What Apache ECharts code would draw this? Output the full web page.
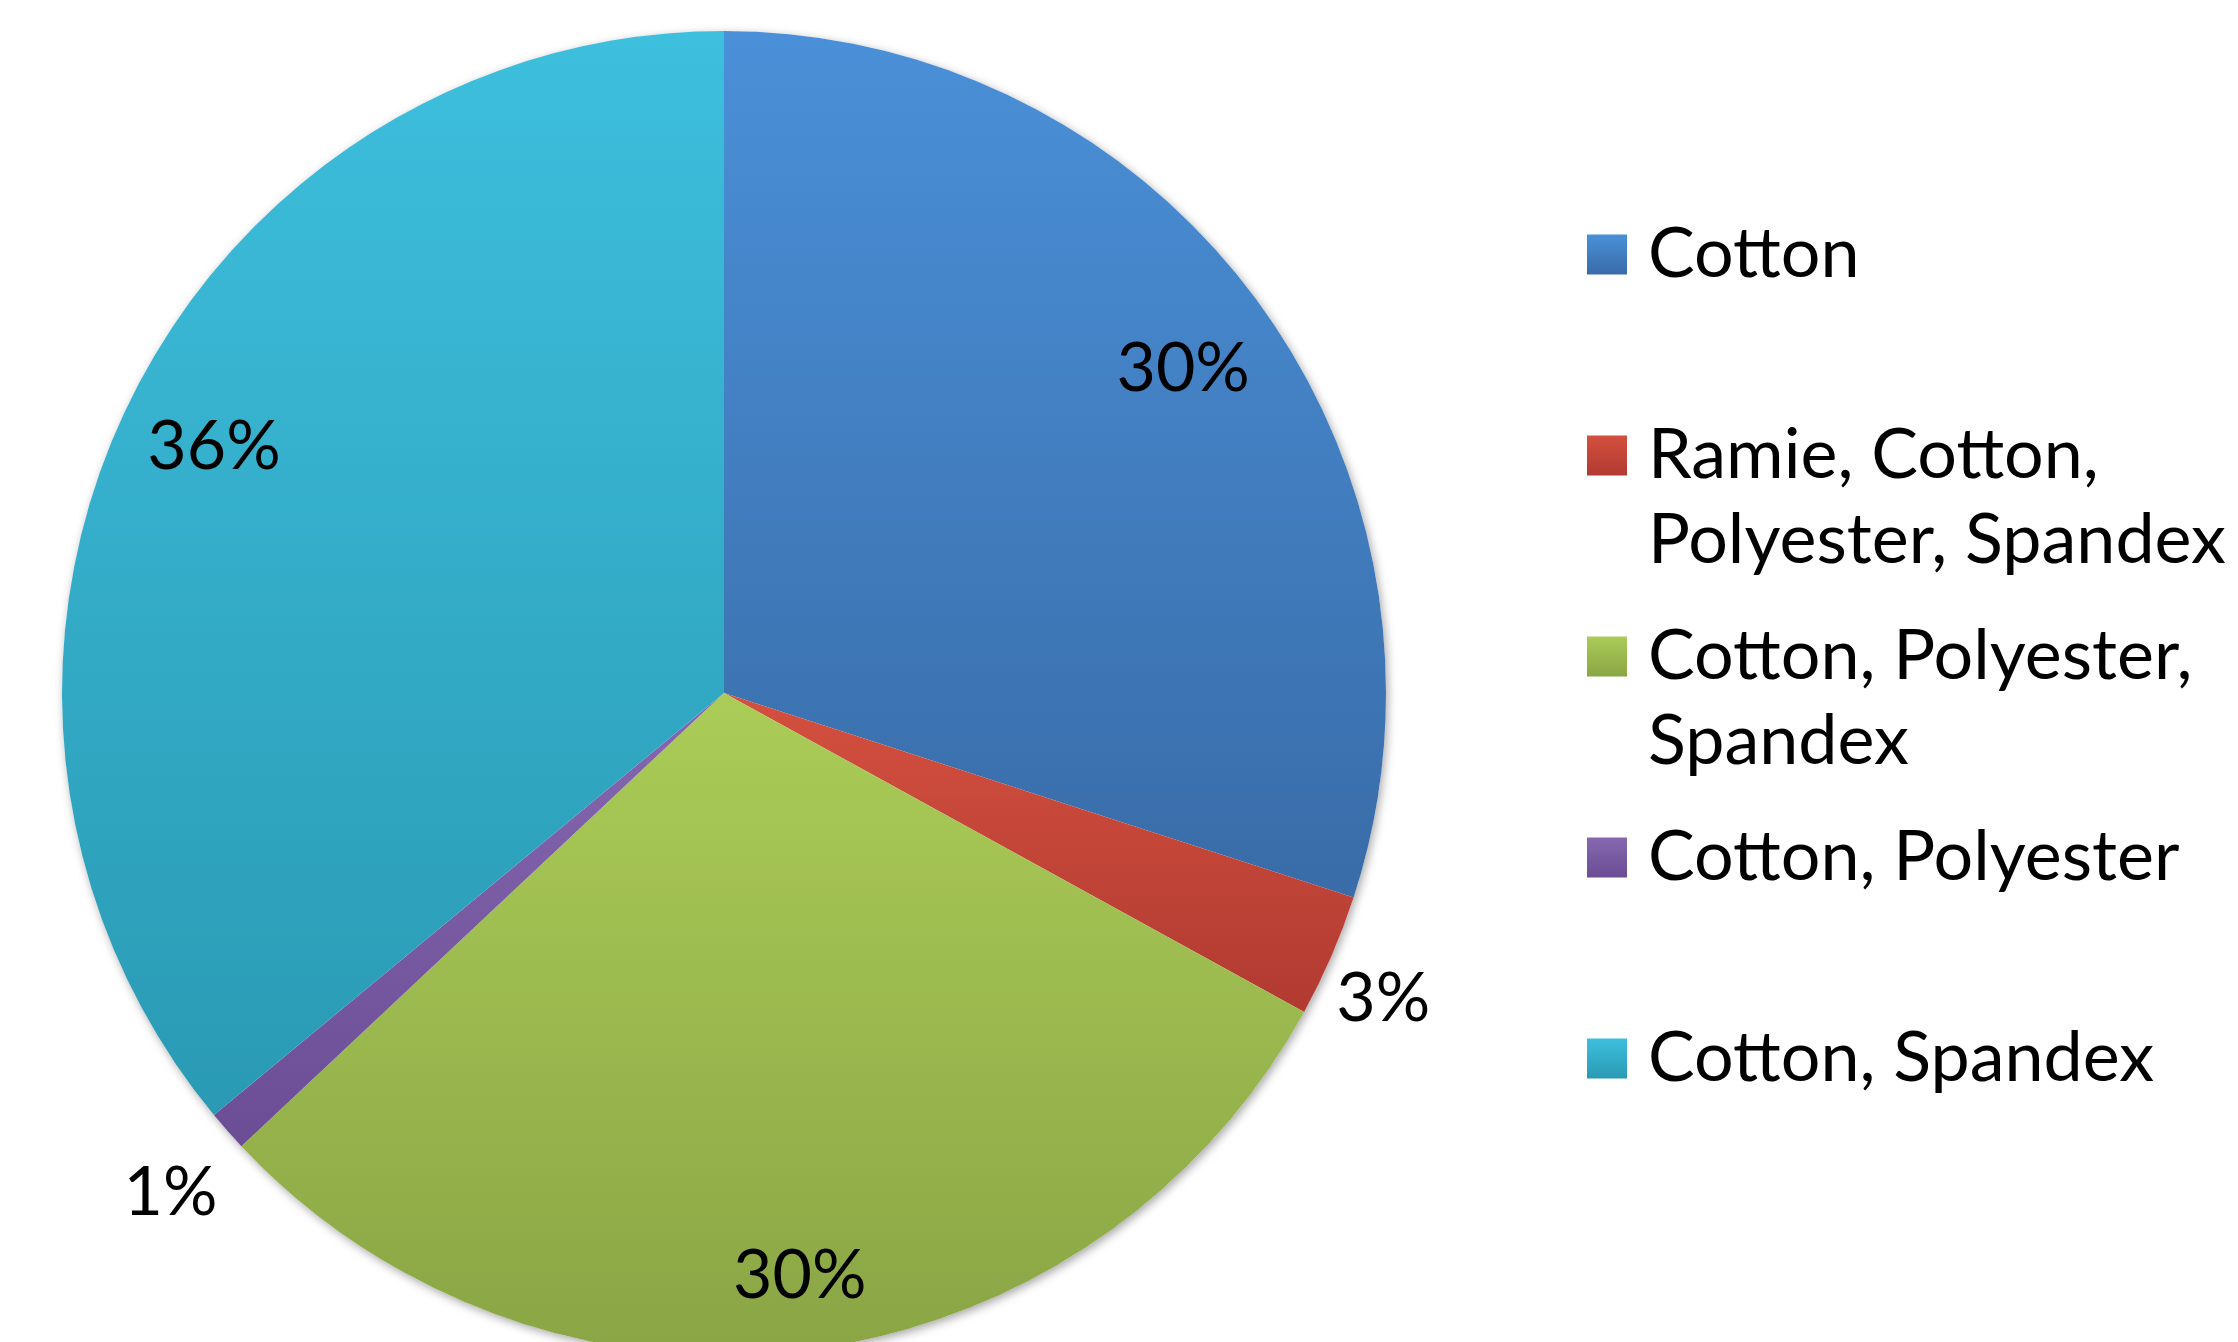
<!DOCTYPE html>
<html>
<head>
<meta charset="utf-8">
<script src="https://cdn.jsdelivr.net/npm/echarts@6/dist/echarts.min.js"></script>
<style>
  html, body { margin: 0; padding: 0; background: #ffffff; }
  #chart { width: 2238px; height: 1342px; }
</style>
</head>
<body>
<div id="chart"></div>
<script>
// Fibre content of the garments, share of items (%)
const fabrics = [
  'Cotton',
  'Ramie, Cotton, Polyester, Spandex',
  'Cotton, Polyester, Spandex',
  'Cotton, Polyester',
  'Cotton, Spandex'
];
const shares = [30, 3, 30, 1, 36];

// Legend wording, wrapped the way it is laid out beside the pie
const legendText = [
  ['Cotton'],
  ['Ramie, Cotton,', 'Polyester, Spandex'],
  ['Cotton, Polyester,', 'Spandex'],
  ['Cotton, Polyester'],
  ['Cotton, Spandex']
];

// Which slices carry their percentage inside the pie and which outside
const labelInside = [true, false, true, false, true];

// Top / bottom colours of each slice's vertical gradient
const topColors    = ['#4a90d8', '#d4503f', '#abcc57', '#8668b1', '#3dbfdd'];
const bottomColors = ['#396ca8', '#b13a31', '#8aa545', '#6a4d95', '#2a9ab4'];

const FONT = 'Lato';
const LABEL_SIZE = 68;
const LEGEND_SIZE = 70;
const LINE_H = 85;

const CX = 724, CY = 693, R = 662;

// small hand nudges (px) for the percentage labels, per slice
const labelShift = [[-4, 13], [-18, 13], [4, 15], [0, 12], [8, -2]];

function grad(i) {
  return new echarts.graphic.LinearGradient(0, 0, 0, 1, [
    { offset: 0, color: topColors[i] },
    { offset: 1, color: bottomColors[i] }
  ]);
}

const sliceData = fabrics.map((name, i) => ({
  name: name,
  value: shares[i],
  itemStyle: { color: grad(i) }
}));

const labelStyle = {
  fontFamily: FONT,
  fontSize: LABEL_SIZE,
  color: '#000000',
  formatter: '{d}%'
};

function labelData(inside) {
  return fabrics.map((name, i) => ({
    name: name,
    value: shares[i],
    label: { show: labelInside[i] === inside }
  }));
}

function nudge(params) {
  const s = labelShift[params.dataIndex];
  return { dx: s[0], dy: s[1] };
}

// Every legend entry is laid out as three lines so that the swatch
// sits level with the first line of text.
function legendLines(i) {
  const lines = legendText[i];
  return lines.length === 1 ? ['', lines[0], ''] : [''].concat(lines);
}

const chart = echarts.init(document.getElementById('chart'), null, { renderer: 'canvas' });

chart.setOption({
  backgroundColor: '#ffffff',
  animation: false,
  legend: {
    orient: 'vertical',
    left: 1587,
    top: Math.round(254 - 1.5 * LINE_H),
    padding: 0,
    itemWidth: 40,
    itemHeight: 40,
    itemGap: 201 - 3 * LINE_H,
    icon: 'rect',
    selectedMode: false,
    data: fabrics.slice(),
    formatter: function (name) {
      return legendLines(fabrics.indexOf(name)).join('\n');
    },
    textStyle: {
      fontFamily: FONT,
      fontSize: LEGEND_SIZE,
      lineHeight: LINE_H,
      color: '#000000',
      padding: [0, 0, 0, 16]
    }
  },
  series: [
    {
      // soft drop shadow under the whole disc
      type: 'pie',
      center: [CX, CY],
      radius: [0, R],
      silent: true,
      z: 1,
      label: { show: false },
      labelLine: { show: false },
      emphasis: { disabled: true },
      itemStyle: {
        color: '#ffffff',
        shadowBlur: 10,
        shadowColor: 'rgba(0,0,0,0.35)',
        shadowOffsetX: 2,
        shadowOffsetY: 3
      },
      data: [{ value: 1, name: '' }]
    },
    {
      type: 'pie',
      center: [CX, CY],
      radius: [0, R],
      startAngle: 90,
      clockwise: true,
      z: 2,
      label: { show: false },
      labelLine: { show: false },
      emphasis: { disabled: true },
      itemStyle: { borderWidth: 0 },
      data: sliceData
    },
    {
      // percentages placed inside the slices, near the rim
      type: 'pie',
      center: [CX, CY],
      radius: [Math.round(R * 0.72), R],
      startAngle: 90,
      clockwise: true,
      silent: true,
      z: 3,
      itemStyle: { color: 'rgba(0,0,0,0)' },
      emphasis: { disabled: true },
      labelLine: { show: false },
      label: Object.assign({ position: 'inside' }, labelStyle),
      labelLayout: nudge,
      data: labelData(true)
    },
    {
      // percentages for the thin slices, just outside the rim
      type: 'pie',
      center: [CX, CY],
      radius: [R, Math.round(R * 1.22)],
      startAngle: 90,
      clockwise: true,
      silent: true,
      z: 3,
      itemStyle: { color: 'rgba(0,0,0,0)' },
      emphasis: { disabled: true },
      labelLine: { show: false },
      label: Object.assign({ position: 'inside' }, labelStyle),
      labelLayout: nudge,
      data: labelData(false)
    }
  ]
});
</script>
</body>
</html>
